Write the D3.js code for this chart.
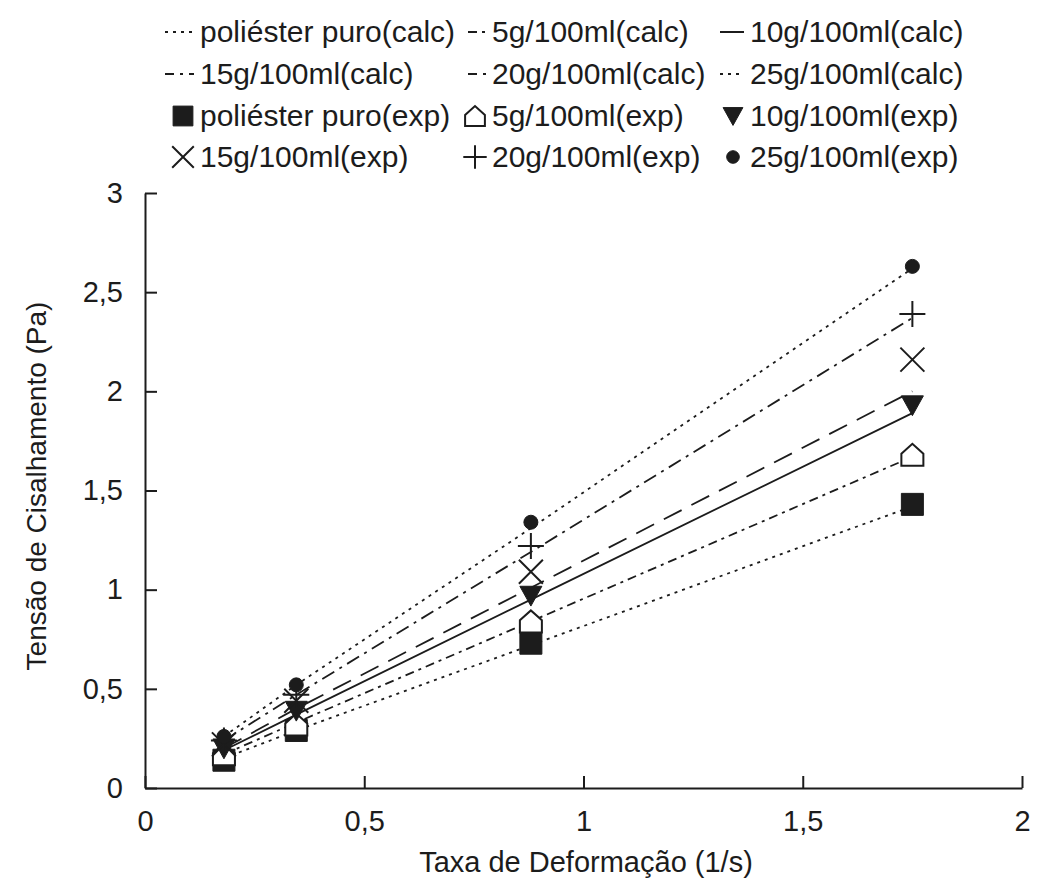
<!DOCTYPE html>
<html>
<head>
<meta charset="utf-8">
<script src="https://cdn.jsdelivr.net/npm/d3@7"></script>
<style>
  body { margin: 0; background: #fff; }
  svg { display: block; font-family: "Liberation Sans", Arial, sans-serif; }
</style>
</head>
<body>
<div id="chart-area"></div>
<script>
// values
const shearRate = [0.18, 0.345, 0.88, 1.75]
const seriesNames = ["poliéster puro", "5g/100ml", "10g/100ml", "15g/100ml", "20g/100ml", "25g/100ml"]

const calcPuro = [0.15, 0.29, 0.72, 1.42]
const calc5 = [0.17, 0.33, 0.84, 1.67]
const calc10 = [0.19, 0.37, 0.95, 1.89]
const calc15 = [0.20, 0.40, 1.01, 2.00]
const calc20 = [0.24, 0.47, 1.19, 2.37]
const calc25 = [0.26, 0.52, 1.31, 2.62]

const expPuro = [0.14, 0.29, 0.73, 1.43]
const exp5 = [0.17, 0.32, 0.84, 1.68]
const exp10 = [0.20, 0.39, 0.97, 1.93]
const exp15 = [0.22, 0.44, 1.09, 2.16]
const exp20 = [0.24, 0.47, 1.22, 2.39]
const exp25 = [0.26, 0.52, 1.34, 2.63]

const xTicks = [0, 0.5, 1, 1.5, 2]
const yTicks = [0, 0.5, 1, 1.5, 2, 2.5, 3]

const MARGIN = { LEFT: 145, RIGHT: 19, TOP: 193, BOTTOM: 94 }
const WIDTH = 1041 - MARGIN.LEFT - MARGIN.RIGHT
const HEIGHT = 882 - MARGIN.TOP - MARGIN.BOTTOM
const INK = "#1c1c1c"

// line style + marker per series
const dashes = ["3,5", "9,5,3,5", null, "20,11", "14,6,3,6", "3,5"]
const legendDashes = ["3,5", "9,5,3,5", null, "9,6,3,6", "9,6,3,6", "3,5"]
const markers = ["square", "house", "tridown", "times", "plus", "circle"]
const calcData = [calcPuro, calc5, calc10, calc15, calc20, calc25]
const expData = [expPuro, exp5, exp10, exp15, exp20, exp25]

const series = seriesNames.map((name, i) => ({
    name: name, dash: dashes[i], legDash: legendDashes[i], marker: markers[i],
    calc: shearRate.map((r, j) => ({ x: r, y: calcData[i][j] })),
    exp: shearRate.map((r, j) => ({ x: r, y: expData[i][j] }))
}))

function markerPath(type, s) {
    const p = d3.path()
    if (type === "square") {
        p.rect(-s, -s, 2 * s, 2 * s)
    } else if (type === "house") {
        p.moveTo(-s, s); p.lineTo(s, s); p.lineTo(s, -0.1 * s)
        p.lineTo(0, -s); p.lineTo(-s, -0.1 * s); p.closePath()
    } else if (type === "tridown") {
        p.moveTo(-s, -s * 0.85); p.lineTo(s, -s * 0.85); p.lineTo(0, s * 0.95); p.closePath()
    } else if (type === "times") {
        p.moveTo(-s, -s); p.lineTo(s, s); p.moveTo(s, -s); p.lineTo(-s, s)
    } else if (type === "plus") {
        p.moveTo(-s, 0); p.lineTo(s, 0); p.moveTo(0, -s); p.lineTo(0, s)
    } else {
        p.arc(0, 0, s, 0, 2 * Math.PI)
    }
    return p.toString()
}
function markerStyle(sel, type) {
    const filled = type === "square" || type === "tridown" || type === "circle"
    sel.attr("fill", filled ? INK : (type === "house" ? "#fff" : "none"))
       .attr("stroke", INK)
       .attr("stroke-width", filled ? 1 : 2)
}
const markerSize = { square: 11, house: 11, tridown: 11, times: 12, plus: 13, circle: 7 }

const svg = d3.select("#chart-area").append("svg")
    .attr("width", 1041)
    .attr("height", 882)

const g = svg.append("g")
    .attr("transform", `translate(${MARGIN.LEFT}, ${MARGIN.TOP})`)

const x = d3.scaleLinear().domain([0, 2]).range([0, WIDTH])
const y = d3.scaleLinear().domain([0, 3]).range([HEIGHT, 0])
const fmt = d => String(d).replace(".", ",")

// axes (ticks pointing in)
const xAxis = g.append("g")
    .attr("transform", `translate(0, ${HEIGHT})`)
    .call(d3.axisBottom(x).tickValues(xTicks).tickFormat(fmt).tickSize(-12).tickSizeOuter(0).tickPadding(22))
const yAxis = g.append("g")
    .call(d3.axisLeft(y).tickValues(yTicks).tickFormat(fmt).tickSize(-12).tickSizeOuter(0).tickPadding(22))
;[xAxis, yAxis].forEach(a => {
    a.selectAll("path, line").attr("stroke", INK).attr("stroke-width", 2)
    a.selectAll("text").attr("font-size", "29px").attr("fill", INK)
        .attr("font-family", "Liberation Sans, Arial, sans-serif")
})

// calculated lines
const line = d3.line().x(d => x(d.x)).y(d => y(d.y))
g.selectAll(".calc")
    .data(series)
    .enter().append("path")
    .attr("class", "calc")
    .attr("d", d => line(d.calc))
    .attr("fill", "none")
    .attr("stroke", INK)
    .attr("stroke-width", 1.8)
    .attr("stroke-dasharray", d => d.dash)

// experimental points
series.forEach(s => {
    g.selectAll(null)
        .data(s.exp)
        .enter().append("path")
        .attr("transform", d => `translate(${x(d.x)}, ${y(d.y)})`)
        .attr("d", markerPath(s.marker, markerSize[s.marker]))
        .call(markerStyle, s.marker)
})

// axis titles
svg.append("text")
    .attr("x", 586).attr("y", 872)
    .attr("font-size", "29px")
    .attr("text-anchor", "middle")
    .attr("fill", INK)
    .text("Taxa de Deformação (1/s)")

svg.append("text")
    .attr("transform", "translate(46, 486) rotate(-90)")
    .attr("font-size", "28px")
    .attr("text-anchor", "middle")
    .attr("fill", INK)
    .text("Tensão de Cisalhamento (Pa)")

// legend: 4 rows x 3 columns
const legendItems = series.map(s => ({ kind: "calc", s: s, label: s.name + "(calc)" }))
    .concat(series.map(s => ({ kind: "exp", s: s, label: s.name + "(exp)" })))
const colSym = [165, 468, 720]
const colText = [200, 492, 750]
const rowBase = [42, 84, 126, 167]

const leg = svg.append("g")
legendItems.forEach((it, i) => {
    const row = Math.floor(i / 3), col = i % 3
    const cy = rowBase[row] - 10
    if (it.kind === "calc") {
        leg.append("line")
            .attr("x1", colSym[col]).attr("x2", colText[col] - 6)
            .attr("y1", cy).attr("y2", cy)
            .attr("stroke", INK).attr("stroke-width", 2)
            .attr("stroke-dasharray", it.s.legDash)
    } else {
        leg.append("path")
            .attr("transform", `translate(${colText[col] - 17}, ${cy})`)
            .attr("d", markerPath(it.s.marker, markerSize[it.s.marker] * 0.9))
            .call(markerStyle, it.s.marker)
    }
    leg.append("text")
        .attr("x", colText[col]).attr("y", rowBase[row])
        .attr("font-size", "30px")
        .attr("fill", INK)
        .text(it.label)
})
</script>
</body>
</html>
